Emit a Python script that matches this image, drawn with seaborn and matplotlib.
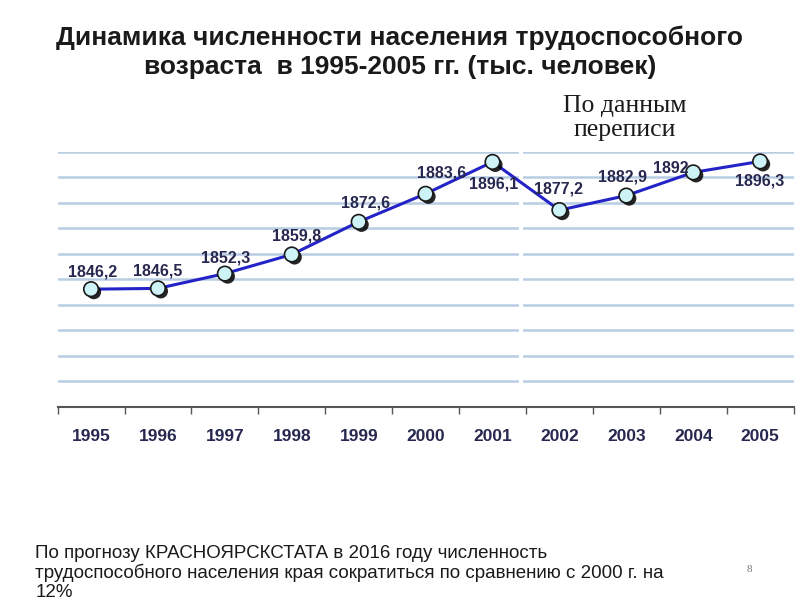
import matplotlib
matplotlib.use("Agg")
import matplotlib.pyplot as plt
import matplotlib.patheffects as pe
import seaborn as sns
import pandas as pd

years = ["1995", "1996", "1997", "1998", "1999", "2000", "2001", "2002", "2003", "2004", "2005"]
values = [1846.2, 1846.5, 1852.3, 1859.8, 1872.6, 1883.6, 1896.1, 1877.2, 1882.9, 1892.0, 1896.3]
value_labels = ["1846,2", "1846,5", "1852,3", "1859,8", "1872,6", "1883,6", "1896,1", "1877,2", "1882,9", "1892", "1896,3"]

title = "Динамика численности населения трудоспособного\nвозраста  в 1995-2005 гг. (тыс. человек)"
census_note = "По данным\nпереписи"
footnote = ("По прогнозу КРАСНОЯРСКСТАТА в 2016 году численность\n"
            "трудоспособного населения края сократиться по сравнению с 2000 г. на\n"
            "12%")
page_number = "8"

# label offsets in pixels (dx, dy)
label_offsets = [(2, 17), (0, 17), (1, 16), (5, 18), (7, 19), (16, 21),
                 (1, -22), (-1, 21), (-4, 19), (-22, 4), (-1, -20)]

sns.set_theme(style="white")
plt.rcParams['font.family'] = ['Liberation Sans', 'DejaVu Sans']

df = pd.DataFrame({"x": range(len(years)), "year": years, "value": values})

fig = plt.figure(figsize=(8, 6), dpi=100)
ax = fig.add_axes([0.072, 0.3217, 0.92, 0.425])

line_color = "#2323c8"
grid_color = "#b9cde2"
text_color = "#27284f"

ax.set_xlim(-0.5, len(years) - 0.5)
ax.set_ylim(1800, 1900)
ax.set_yticks(range(1810, 1901, 10))
ax.yaxis.grid(True, color=grid_color, linewidth=1.8)
ax.set_axisbelow(True)

sns.lineplot(data=df, x="x", y="value", ax=ax, color=line_color, linewidth=2.2, zorder=3)
sns.scatterplot(data=df, x="x", y="value", ax=ax, s=110, color="#cdf3f7",
                edgecolor="#1a1a1a", linewidth=1.2, zorder=4,
                path_effects=[pe.SimplePatchShadow(offset=(2, -2), shadow_rgbFace="black", alpha=0.85), pe.Normal()])

for i, (lab, off) in enumerate(zip(value_labels, label_offsets)):
    ax.annotate(lab, (i, values[i]), xytext=off, textcoords="offset pixels",
                ha="center", va="center", fontsize=11.5, fontweight="bold", color=text_color, zorder=5)

# separator gap between panels
ax.axvline(6.43, color="white", linewidth=3, zorder=2)

ax.set_xticks([i - 0.5 for i in range(len(years) + 1)], minor=False)
ax.set_xticklabels([])
ax.set_xticks(range(len(years)), minor=True)
ax.set_xticklabels(years, minor=True, fontsize=12.5, fontweight="bold", color=text_color)
ax.tick_params(axis="x", which="major", length=5, width=1, color="#555555", bottom=True, direction="out")
ax.tick_params(axis="x", which="minor", length=0, pad=16)
ax.set_yticklabels([])
ax.tick_params(axis="y", length=0)
ax.set_xlabel("")
ax.set_ylabel("")
for s in ["top", "right", "left"]:
    ax.spines[s].set_visible(False)
ax.spines["bottom"].set_color("#555555")
ax.spines["bottom"].set_linewidth(1.5)

fig.text(0.5, 0.913, title, ha="center", va="center", fontsize=19, fontweight="bold",
         color="#1a1a1a", linespacing=1.3)
fig.text(0.781, 0.803, census_note, ha="center", va="center", fontsize=18.5,
         family=["Liberation Serif", "DejaVu Serif"], color="#1a1a1a", linespacing=1.15)
fig.text(0.044, 0.045, footnote, ha="left", va="center", fontsize=13.5,
         color="#1a1a1a", linespacing=1.1)
fig.text(0.937, 0.05, page_number, ha="center", va="center", fontsize=8,
         family=["Liberation Serif", "DejaVu Serif"], color="#777777")

fig.savefig("out.png", dpi=100, facecolor="white")
